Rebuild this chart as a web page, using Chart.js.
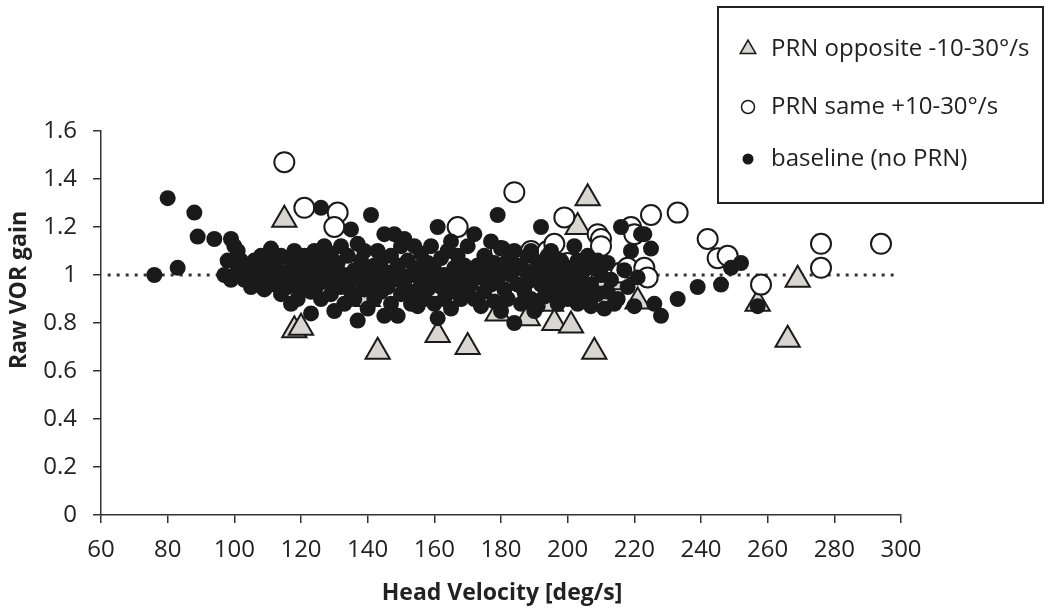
<!DOCTYPE html>
<html>
<head>
<meta charset="utf-8">
<script src="https://cdn.jsdelivr.net/npm/chart.js@4.4.0/dist/chart.umd.min.js"></script>
<style>
  html, body { margin: 0; padding: 0; background: #fff; }
</style>
</head>
<body>
<canvas id="chart" width="1050" height="616"></canvas>
<script>
// axis ticks
const xTicks = [60, 80, 100, 120, 140, 160, 180, 200, 220, 240, 260, 280, 300];
const yTicks = [0, 0.2, 0.4, 0.6, 0.8, 1, 1.2, 1.4, 1.6];

const seriesLabels = ['PRN opposite -10-30°/s', 'PRN same +10-30°/s', 'baseline (no PRN)'];

// dotted reference at gain = 1
const refLine = [[62, 1], [298, 1]];

// [head velocity, raw VOR gain]
const prnOpposite = [
  [115, 1.23], [118, 0.77], [120, 0.78], [140, 0.90], [143, 0.68], [161, 0.75],
  [170, 0.70], [179, 0.84], [182, 0.98], [188, 0.82], [195, 0.88], [196, 0.80],
  [201, 0.79], [203, 1.20], [206, 1.32], [208, 0.68], [209, 0.98], [214, 0.97],
  [221, 0.89], [257, 0.88], [266, 0.73], [269, 0.98]
];

const prnSame = [
  [115, 1.47], [121, 1.28], [131, 1.26], [130, 1.20], [167, 1.20], [184, 1.345],
  [180, 1.10], [189, 1.10], [194, 1.10], [196, 1.13], [199, 1.24], [200, 1.05],
  [209, 1.17], [210, 1.15], [210, 1.12], [216, 1.01], [218, 1.03], [219, 1.20],
  [220, 1.17], [223, 1.03], [224, 0.99], [225, 1.25], [233, 1.26], [242, 1.15],
  [245, 1.07], [248, 1.08], [258, 0.96], [276, 1.13], [276, 1.03], [294, 1.13]
];

const baseline = [
  [76, 1.00], [80, 1.32], [83, 1.03], [88, 1.26], [89, 1.16], [94, 1.15], [97, 1.00],
  [98, 1.06], [99, 1.15], [100, 1.12], [99, 0.98],
  [101, 1.10], [101, 1.02], [102, 1.06], [103, 0.98], [104, 1.04], [105, 0.95], [106, 1.06],
  [106, 1.00], [107, 1.02], [108, 0.97], [108, 1.08], [109, 0.94], [110, 1.04], [110, 0.99], [104, 1.01],
  [111, 1.11], [112, 1.06], [112, 0.96], [113, 1.02], [114, 0.92], [114, 1.08], [115, 1.00],
  [116, 1.07], [116, 0.95], [117, 1.03], [118, 0.98], [118, 1.10], [119, 0.90], [119, 1.04],
  [120, 1.01], [120, 0.94], [117, 0.88], [113, 0.97],
  [121, 1.08], [121, 0.98], [122, 1.03], [123, 0.84], [123, 0.93], [124, 1.10], [124, 1.00],
  [125, 1.05], [125, 0.96], [126, 1.28], [126, 0.90], [127, 1.02], [127, 1.12], [128, 0.97],
  [128, 1.07], [129, 0.92], [130, 1.00], [130, 0.85], [129, 1.09], [122, 0.96],
  [131, 1.05], [132, 0.95], [132, 1.12], [133, 1.00], [133, 0.88], [134, 1.08], [135, 1.19],
  [135, 0.93], [136, 1.02], [136, 0.90], [137, 1.13], [137, 0.81], [138, 0.98], [138, 1.06],
  [139, 0.94], [140, 1.01], [140, 0.86], [139, 1.10], [134, 0.97],
  [141, 1.25], [141, 0.96], [142, 1.04], [142, 0.90], [143, 1.10], [143, 0.99], [144, 0.93],
  [144, 1.06], [145, 1.17], [145, 0.83], [146, 1.01], [146, 0.95], [147, 1.08], [147, 0.88],
  [148, 1.17], [148, 0.98], [149, 0.83], [149, 1.04], [150, 0.92], [150, 1.12], [150, 1.00],
  [151, 1.15], [151, 0.96], [152, 1.06], [153, 0.88], [153, 1.00], [154, 1.12], [154, 0.93],
  [155, 0.87], [155, 1.03], [156, 0.97], [156, 1.09], [157, 0.90], [157, 1.00], [158, 1.05],
  [158, 0.94], [159, 1.12], [159, 0.98], [160, 1.02], [160, 0.88],
  [161, 1.20], [161, 0.82], [162, 1.07], [162, 0.95], [163, 1.00], [163, 0.90], [164, 1.10],
  [164, 0.97], [165, 1.14], [165, 0.86], [166, 1.03], [166, 0.93], [167, 1.08], [168, 0.98],
  [168, 0.90], [169, 1.04], [169, 0.94], [170, 1.00], [170, 1.12], [167, 0.99],
  [171, 0.96], [172, 1.17], [172, 0.90], [173, 1.04], [174, 0.87], [174, 0.99], [175, 1.08],
  [175, 0.93], [176, 1.02], [177, 1.14], [177, 0.96], [178, 0.89], [178, 1.05], [179, 1.25],
  [179, 0.98], [180, 1.11], [180, 0.85], [180, 1.01],
  [181, 0.94], [182, 1.06], [182, 0.90], [183, 1.00], [184, 1.10], [184, 0.80], [185, 0.96],
  [185, 1.04], [186, 0.88], [187, 1.02], [187, 0.93], [188, 1.08], [188, 0.97], [189, 1.10],
  [189, 0.90], [190, 1.00], [190, 0.85],
  [191, 0.87], [191, 1.05], [192, 1.20], [192, 0.96], [193, 1.02], [193, 0.91], [194, 1.08],
  [195, 1.10], [195, 0.98], [196, 0.93], [196, 1.04], [197, 0.88], [198, 1.00], [198, 1.06],
  [199, 0.95], [200, 1.03], [200, 0.90],
  [201, 1.00], [202, 1.12], [202, 0.94], [203, 1.06], [203, 0.88], [204, 0.98], [205, 1.02],
  [205, 0.92], [206, 1.08], [207, 0.96], [207, 0.87], [208, 1.03], [209, 0.92], [210, 1.00],
  [211, 0.86], [212, 1.05], [213, 0.98], [214, 0.88],
  [215, 0.90], [216, 1.20], [217, 1.02], [218, 0.95], [219, 1.10], [220, 0.87], [221, 0.99],
  [222, 1.17], [223, 1.17], [225, 1.11], [226, 0.88], [228, 0.83], [233, 0.90], [239, 0.95],
  [246, 0.96], [249, 1.03], [252, 1.05], [257, 0.87], [212, 0.93], [209, 1.06]
];

const toXY = pts => pts.map(p => ({ x: p[0], y: p[1] }));

const triFill = '#d9d5d0';
const ink = '#1a1a1a';
const fontFamily = '"Open Sans", "DejaVu Sans", sans-serif';

// legend box + axis titles drawn on top
const extras = {
  id: 'extras',
  afterDraw(chart) {
    const ctx = chart.ctx;
    ctx.save();

    // axis titles
    ctx.fillStyle = '#222';
    ctx.font = 'bold 23px ' + fontFamily;
    ctx.textAlign = 'center';
    ctx.textBaseline = 'middle';
    ctx.fillText('Head Velocity [deg/s]', 502, 593);
    ctx.save();
    ctx.translate(19, 290);
    ctx.rotate(-Math.PI / 2);
    ctx.fillText('Raw VOR gain', 0, 0);
    ctx.restore();

    // legend
    ctx.fillStyle = '#fff';
    ctx.fillRect(718, 7, 325, 196);
    ctx.strokeStyle = '#222';
    ctx.lineWidth = 2;
    ctx.strokeRect(718, 7, 325, 196);

    const mx = 748;
    const rows = [49, 107, 159];

    // triangle
    let r = 9;
    ctx.beginPath();
    ctx.moveTo(mx, rows[0] - r);
    ctx.lineTo(mx + r * Math.sin(2 * Math.PI / 3), rows[0] + r / 2);
    ctx.lineTo(mx - r * Math.sin(2 * Math.PI / 3), rows[0] + r / 2);
    ctx.closePath();
    ctx.fillStyle = triFill;
    ctx.fill();
    ctx.lineWidth = 1.5;
    ctx.strokeStyle = ink;
    ctx.stroke();

    // open circle
    ctx.beginPath();
    ctx.arc(mx, rows[1], 6.5, 0, Math.PI * 2);
    ctx.fillStyle = '#fff';
    ctx.fill();
    ctx.stroke();

    // filled dot
    ctx.beginPath();
    ctx.arc(mx, rows[2], 5.5, 0, Math.PI * 2);
    ctx.fillStyle = ink;
    ctx.fill();

    ctx.fillStyle = '#222';
    ctx.font = '24px ' + fontFamily;
    ctx.textAlign = 'left';
    seriesLabels.forEach((label, i) => ctx.fillText(label, 771, rows[i]));

    ctx.restore();
  }
};

new Chart(document.getElementById('chart'), {
  type: 'scatter',
  data: {
    datasets: [
      {
        label: seriesLabels[0],
        data: toXY(prnOpposite),
        pointStyle: 'triangle',
        pointRadius: 14,
        backgroundColor: triFill,
        borderColor: ink,
        borderWidth: 2,
        order: 2
      },
      {
        label: seriesLabels[1],
        data: toXY(prnSame),
        pointStyle: 'circle',
        pointRadius: 10,
        backgroundColor: '#fff',
        borderColor: ink,
        borderWidth: 2,
        order: 1
      },
      {
        label: seriesLabels[2],
        data: toXY(baseline),
        pointStyle: 'circle',
        pointRadius: 8,
        backgroundColor: ink,
        borderColor: ink,
        borderWidth: 0,
        order: 0
      },
      {
        type: 'line',
        label: 'reference',
        data: toXY(refLine),
        borderColor: '#333',
        borderWidth: 3,
        borderDash: [3, 6],
        pointRadius: 0,
        fill: false,
        order: 3
      }
    ]
  },
  options: {
    responsive: false,
    animation: false,
    layout: { padding: { left: 0, top: 131, right: 149, bottom: 0 } },
    plugins: {
      legend: { display: false },
      tooltip: { enabled: false }
    },
    scales: {
      x: {
        type: 'linear',
        min: 60,
        max: 300,
        afterFit: s => { s.height = 101; },
        afterBuildTicks: s => { s.ticks = xTicks.map(v => ({ value: v })); },
        grid: { drawOnChartArea: false, drawTicks: true, tickLength: 8, color: '#333', lineWidth: 1.5 },
        border: { display: true, color: '#333', width: 1.5 },
        ticks: {
          color: '#222',
          padding: 13,
          maxRotation: 0,
          font: { family: fontFamily, size: 24 }
        }
      },
      y: {
        type: 'linear',
        min: 0,
        max: 1.6,
        afterFit: s => { s.width = 101; },
        afterBuildTicks: s => { s.ticks = yTicks.map(v => ({ value: v })); },
        grid: { drawOnChartArea: false, drawTicks: true, tickLength: 8, color: '#333', lineWidth: 1.5 },
        border: { display: true, color: '#333', width: 1.5 },
        ticks: {
          color: '#222',
          padding: 16,
          font: { family: fontFamily, size: 24 },
          callback: v => String(Math.round(v * 10) / 10)
        }
      }
    }
  },
  plugins: [extras]
});
</script>
</body>
</html>
